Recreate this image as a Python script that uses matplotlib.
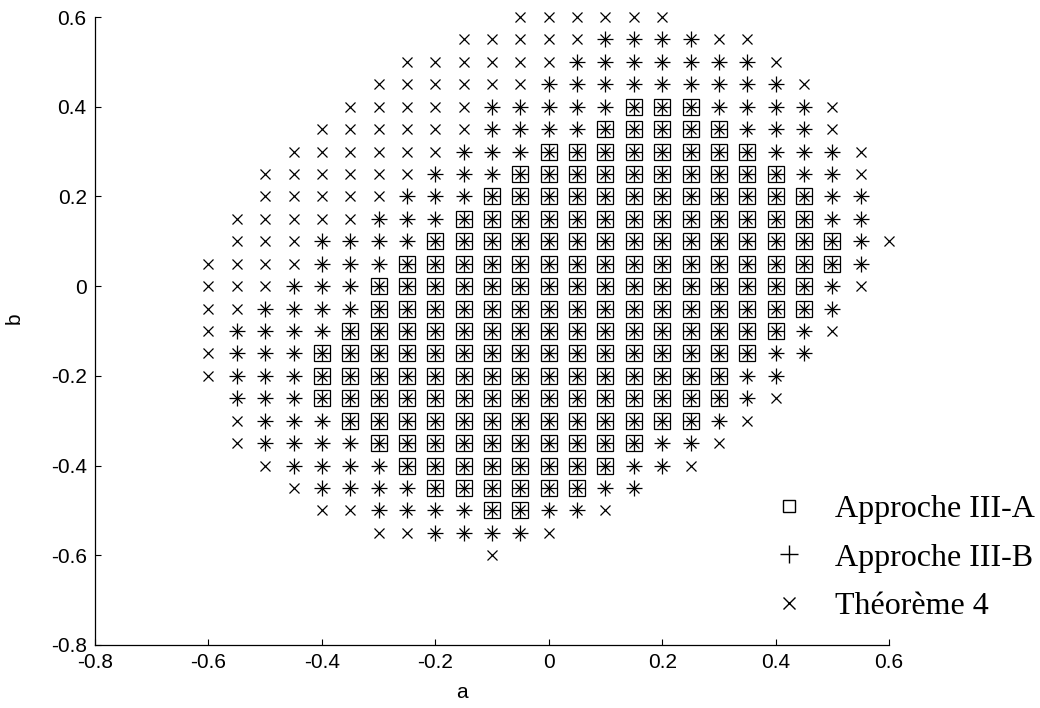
import numpy as np
import matplotlib
matplotlib.use('Agg')
import matplotlib.pyplot as plt
from matplotlib.lines import Line2D

# Rows of the grid (b) and, for each row, the a-range covered by each method
b_rows = [0.6, 0.55, 0.5, 0.45, 0.4, 0.35, 0.3, 0.25, 0.2, 0.15, 0.1, 0.05, 0.0,
          -0.05, -0.1, -0.15, -0.2, -0.25, -0.3, -0.35, -0.4, -0.45, -0.5, -0.55, -0.6]

# Théorème 4 (x markers)
thm_lo = [-0.05, -0.15, -0.25, -0.3, -0.35, -0.4, -0.45, -0.5, -0.5, -0.55, -0.55, -0.6, -0.6,
          -0.6, -0.6, -0.6, -0.6, -0.55, -0.55, -0.55, -0.5, -0.45, -0.4, -0.3, -0.1]
thm_hi = [0.2, 0.35, 0.4, 0.45, 0.5, 0.5, 0.55, 0.55, 0.55, 0.55, 0.6, 0.55, 0.55,
          0.5, 0.5, 0.45, 0.4, 0.4, 0.35, 0.3, 0.25, 0.15, 0.1, 0.0, -0.1]

# Approche III-B (+ markers), None = empty row
appB_lo = [None, 0.1, 0.05, 0.0, -0.1, -0.1, -0.15, -0.2, -0.25, -0.3, -0.4, -0.4, -0.45,
           -0.5, -0.55, -0.55, -0.55, -0.55, -0.5, -0.5, -0.45, -0.4, -0.3, -0.2, None]
appB_hi = [None, 0.25, 0.35, 0.4, 0.45, 0.45, 0.5, 0.5, 0.55, 0.55, 0.55, 0.55, 0.5,
           0.5, 0.45, 0.45, 0.4, 0.35, 0.3, 0.25, 0.2, 0.15, 0.05, -0.05, None]

# Approche III-A (square markers)
appA_lo = [None, None, None, None, 0.15, 0.1, 0.0, -0.05, -0.1, -0.15, -0.2, -0.25, -0.3,
           -0.3, -0.35, -0.4, -0.4, -0.4, -0.35, -0.3, -0.25, -0.2, -0.1, None, None]
appA_hi = [None, None, None, None, 0.25, 0.3, 0.35, 0.4, 0.45, 0.45, 0.5, 0.5, 0.45,
           0.45, 0.4, 0.35, 0.3, 0.3, 0.25, 0.15, 0.1, 0.05, -0.05, None, None]


def grid_points(lo, hi):
    aa, bb = [], []
    for b, l, h in zip(b_rows, lo, hi):
        if l is None:
            continue
        n = int(round((h - l) / 0.05)) + 1
        for k in range(n):
            aa.append(round(l + 0.05 * k, 2))
            bb.append(b)
    return aa, bb


plt.rcParams['font.family'] = ['Liberation Sans', 'DejaVu Sans']

fig = plt.figure(figsize=(10.4, 7.08), dpi=100)
ax = fig.add_axes([95 / 1040, 63 / 708, 794 / 1040, 628 / 708])

a_t, b_t = grid_points(thm_lo, thm_hi)
a_b, b_b = grid_points(appB_lo, appB_hi)
a_a, b_a = grid_points(appA_lo, appA_hi)

ax.plot(a_t, b_t, 'x', color='black', ms=7, mew=0.9, ls='none', clip_on=False)
ax.plot(a_b, b_b, '+', color='black', ms=11.5, mew=0.9, ls='none', clip_on=False)
ax.plot(a_a, b_a, 's', color='black', mfc='none', ms=11, mew=0.9, ls='none', clip_on=False)

ax.set_xlim(-0.8, 0.6)
ax.set_ylim(-0.8, 0.6)
ax.set_xticks(np.arange(-0.8, 0.61, 0.2))
ax.set_yticks(np.arange(-0.8, 0.61, 0.2))
ax.set_xticklabels(['-0.8', '-0.6', '-0.4', '-0.2', '0', '0.2', '0.4', '0.6'])
ax.set_yticklabels(['-0.8', '-0.6', '-0.4', '-0.2', '0', '0.2', '0.4', '0.6'])
ax.tick_params(direction='in', length=4, width=0.8, labelsize=15, pad=6)
for side in ['top', 'right']:
    ax.spines[side].set_visible(False)
for side in ['left', 'bottom']:
    ax.spines[side].set_linewidth(0.9)

ax.set_xlabel('a', fontsize=15)
ax.set_ylabel('b', fontsize=15)
ax.xaxis.set_label_coords(0.462, -0.06)
ax.yaxis.set_label_coords(-0.09, 0.52)

handles = [
    Line2D([], [], marker='s', color='black', mfc='none', ms=9, mew=1.0, ls='none'),
    Line2D([], [], marker='+', color='black', ms=13, mew=1.0, ls='none'),
    Line2D([], [], marker='x', color='black', ms=9, mew=1.0, ls='none'),
]
labels = ['Approche III-A', 'Approche III-B', 'Théorème 4']
fig.legend(handles, labels, loc='center left', bbox_to_anchor=(0.743, 0.212),
           frameon=False, prop={'family': 'Liberation Serif', 'size': 23},
           handlelength=1.0, handletextpad=0.95, labelspacing=0.6,
           borderpad=0, borderaxespad=0)

fig.savefig('out.png', dpi=100)
